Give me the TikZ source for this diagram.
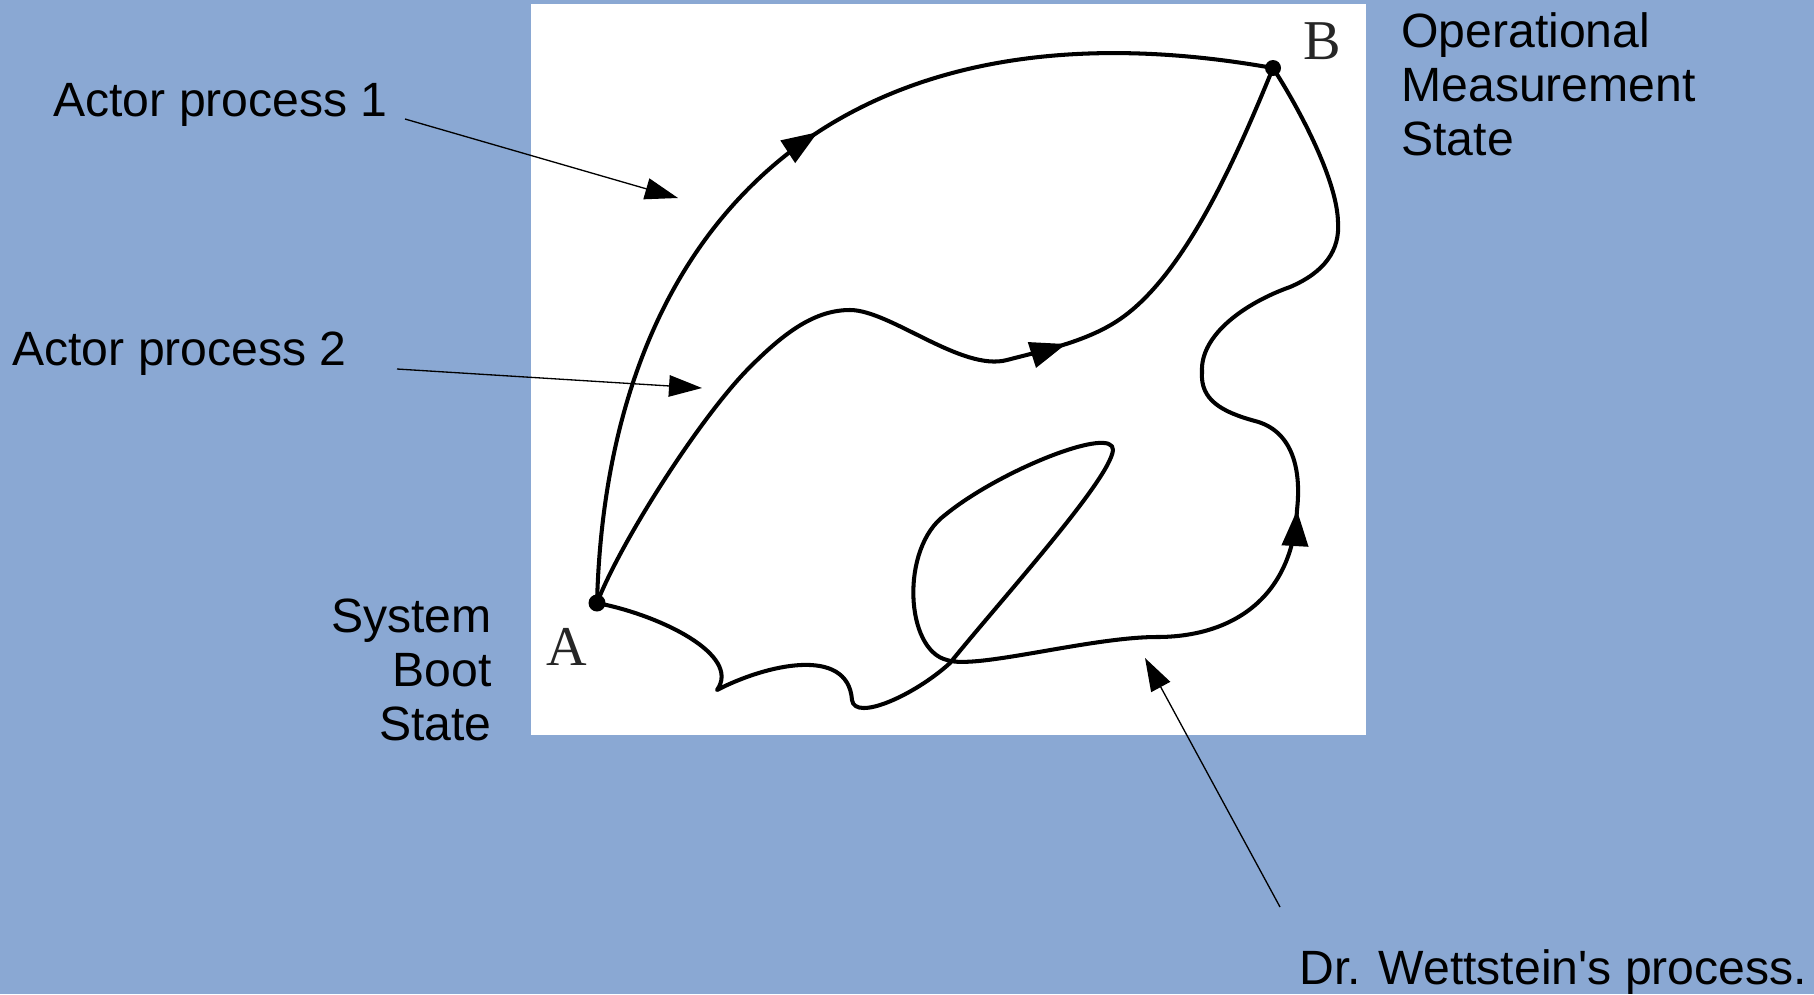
\documentclass[tikz,border=0pt]{standalone}
\usepackage{fontspec}
\setmainfont{Liberation Sans}[Ligatures=TeXOff]
\newfontfamily\pointfont{Liberation Serif}
\usetikzlibrary{arrows.meta,decorations.markings}
\definecolor{slideblue}{HTML}{8AA8D3}

\begin{document}
\begin{tikzpicture}[x=0.02cm,y=-0.02cm,
  lbl/.style={inner sep=0pt,font=\fontsize{27.4}{30.7}\selectfont},
  ptname/.style={inner sep=0pt,text=black!85,font=\pointfont\fontsize{32}{32}\selectfont},
  route/.style={line width=2.3pt,line cap=round,line join=round},
  midarr/.style={postaction={decorate},decoration={markings,
     mark=at position #1 with {\arrow{Triangle[length=0.72cm,width=0.52cm]}}}},
  pointer/.style={-{Triangle[length=0.66cm,width=0.43cm]},line width=0.75pt}]
  % background and picture frame
  \useasboundingbox (0,0) rectangle (1814,994);
  \fill[slideblue] (0,0) rectangle (1814,994);
  \fill[white] (531,4) rectangle (1366,735);
  % states
  \coordinate (A) at (597,603);
  \coordinate (B) at (1273,68);
  \coordinate (cusp) at (717,690);
  \node[ptname,anchor=base] (Aname) at (567,665) {A};
  \node[ptname,anchor=base] (Bname) at (1322,59) {B};
  % actor process 1
  \draw[route,midarr=0.535] (A) .. controls (607,225) and (835,-10) .. (B);
  % actor process 2
  \draw[route,midarr=0.638] (A) .. controls (620,543) and (700,417) .. (750,367)
    .. controls (785,332) and (815,310) .. (850,310)
    .. controls (890,310) and (962,372) .. (1007,360)
    .. controls (1045,350) and (1090,341) .. (1123,317)
    .. controls (1188,270) and (1239,151) .. (B);
  % wettstein process
  \draw[route,midarr=0.722] (A) .. controls (660,615) and (742,655) .. (cusp)
    .. controls (765,665) and (848,645) .. (852,700)
    .. controls (855,722) and (915,695) .. (950,663)
    .. controls (1000,601) and (1110,480) .. (1113,450)
    .. controls (1114,425) and (1000,470) .. (945,515)
    .. controls (900,548) and (905,650) .. (947,660)
    .. controls (975,670) and (1090,637) .. (1157,637)
    .. controls (1230,637) and (1292,600) .. (1297,510)
    .. controls (1302,465) and (1290,430) .. (1255,421)
    .. controls (1222,412) and (1200,400) .. (1202,372)
    .. controls (1200,335) and (1245,303) .. (1290,287)
    .. controls (1325,272) and (1340,250) .. (1338,222)
    .. controls (1337,180) and (1300,110) .. (B);
  \fill (A) circle[radius=0.17cm];
  \fill (B) circle[radius=0.16cm];
  % labels
  \node[lbl,anchor=base west] (ap1) at (53,116) {Actor process 1};
  \node[lbl,anchor=base west] (ap2) at (12,365) {Actor process 2};
  \node[lbl,anchor=north west,align=left] (oms) at (1401,12)
    {Operational\\Measurement\\State};
  \node[lbl,anchor=north east,align=right] (sbs) at (492,599)
    {System\\Boot\\State};
  \node[lbl,anchor=base west] (drw) at (1299,984) {Dr. Wettstein's process.};
  % pointers
  \coordinate (ap1from) at (405,119);
  \coordinate (ap1to) at (678,198);
  \coordinate (ap2from) at (397,369);
  \coordinate (ap2to) at (702,388);
  \coordinate (drwfrom) at (1280,907);
  \coordinate (drwto) at (1145,658);
  \draw[pointer] (ap1from) -- (ap1to);
  \draw[pointer] (ap2from) -- (ap2to);
  \draw[pointer] (drwfrom) -- (drwto);
\end{tikzpicture}
\end{document}
